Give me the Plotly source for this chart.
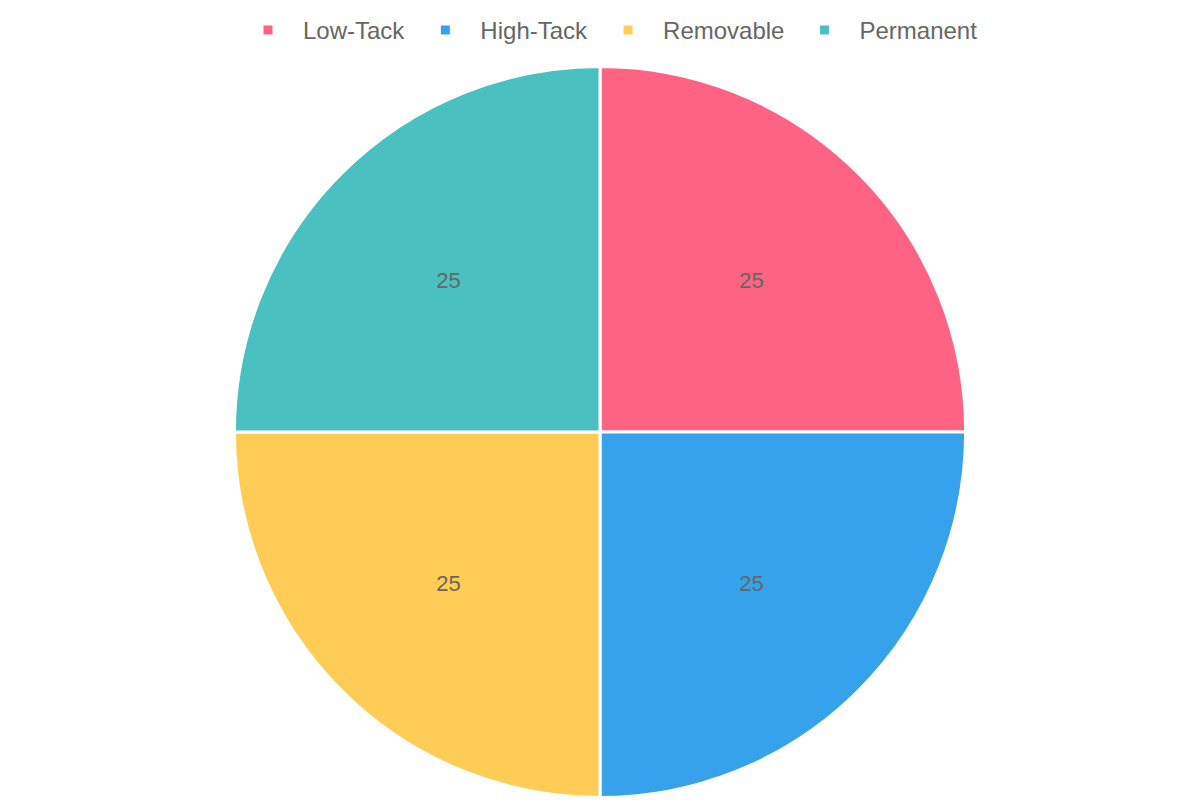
import plotly.graph_objects as go

labels = ["Low-Tack", "High-Tack", "Removable", "Permanent"]
values = [25, 25, 25, 25]
colors = ["#FF6384", "#36A2EB", "#FFCD56", "#4BC0C0"]

fig = go.Figure(go.Pie(
    labels=labels, values=values, sort=False, direction="clockwise", rotation=0,
    marker=dict(colors=colors, line=dict(color="white", width=3)),
    textinfo="value", textposition="inside", insidetextorientation="horizontal",
    textfont=dict(color="#666666", size=22, family="Liberation Sans, Arial"),
    domain=dict(x=[0, 0.9867], y=[0.013, 0.927]), hoverinfo="label+value",
))
fig.update_layout(
    width=1200, height=800, margin=dict(l=0, r=0, t=0, b=0),
    paper_bgcolor="white",
    font=dict(family="Liberation Sans, Arial", color="#666666", size=24),
    legend=dict(orientation="h", x=0.5, xanchor="center", y=1.0, yanchor="top",
                font=dict(size=24, color="#666666"), itemwidth=60),
)
fig.write_html("out.html")
